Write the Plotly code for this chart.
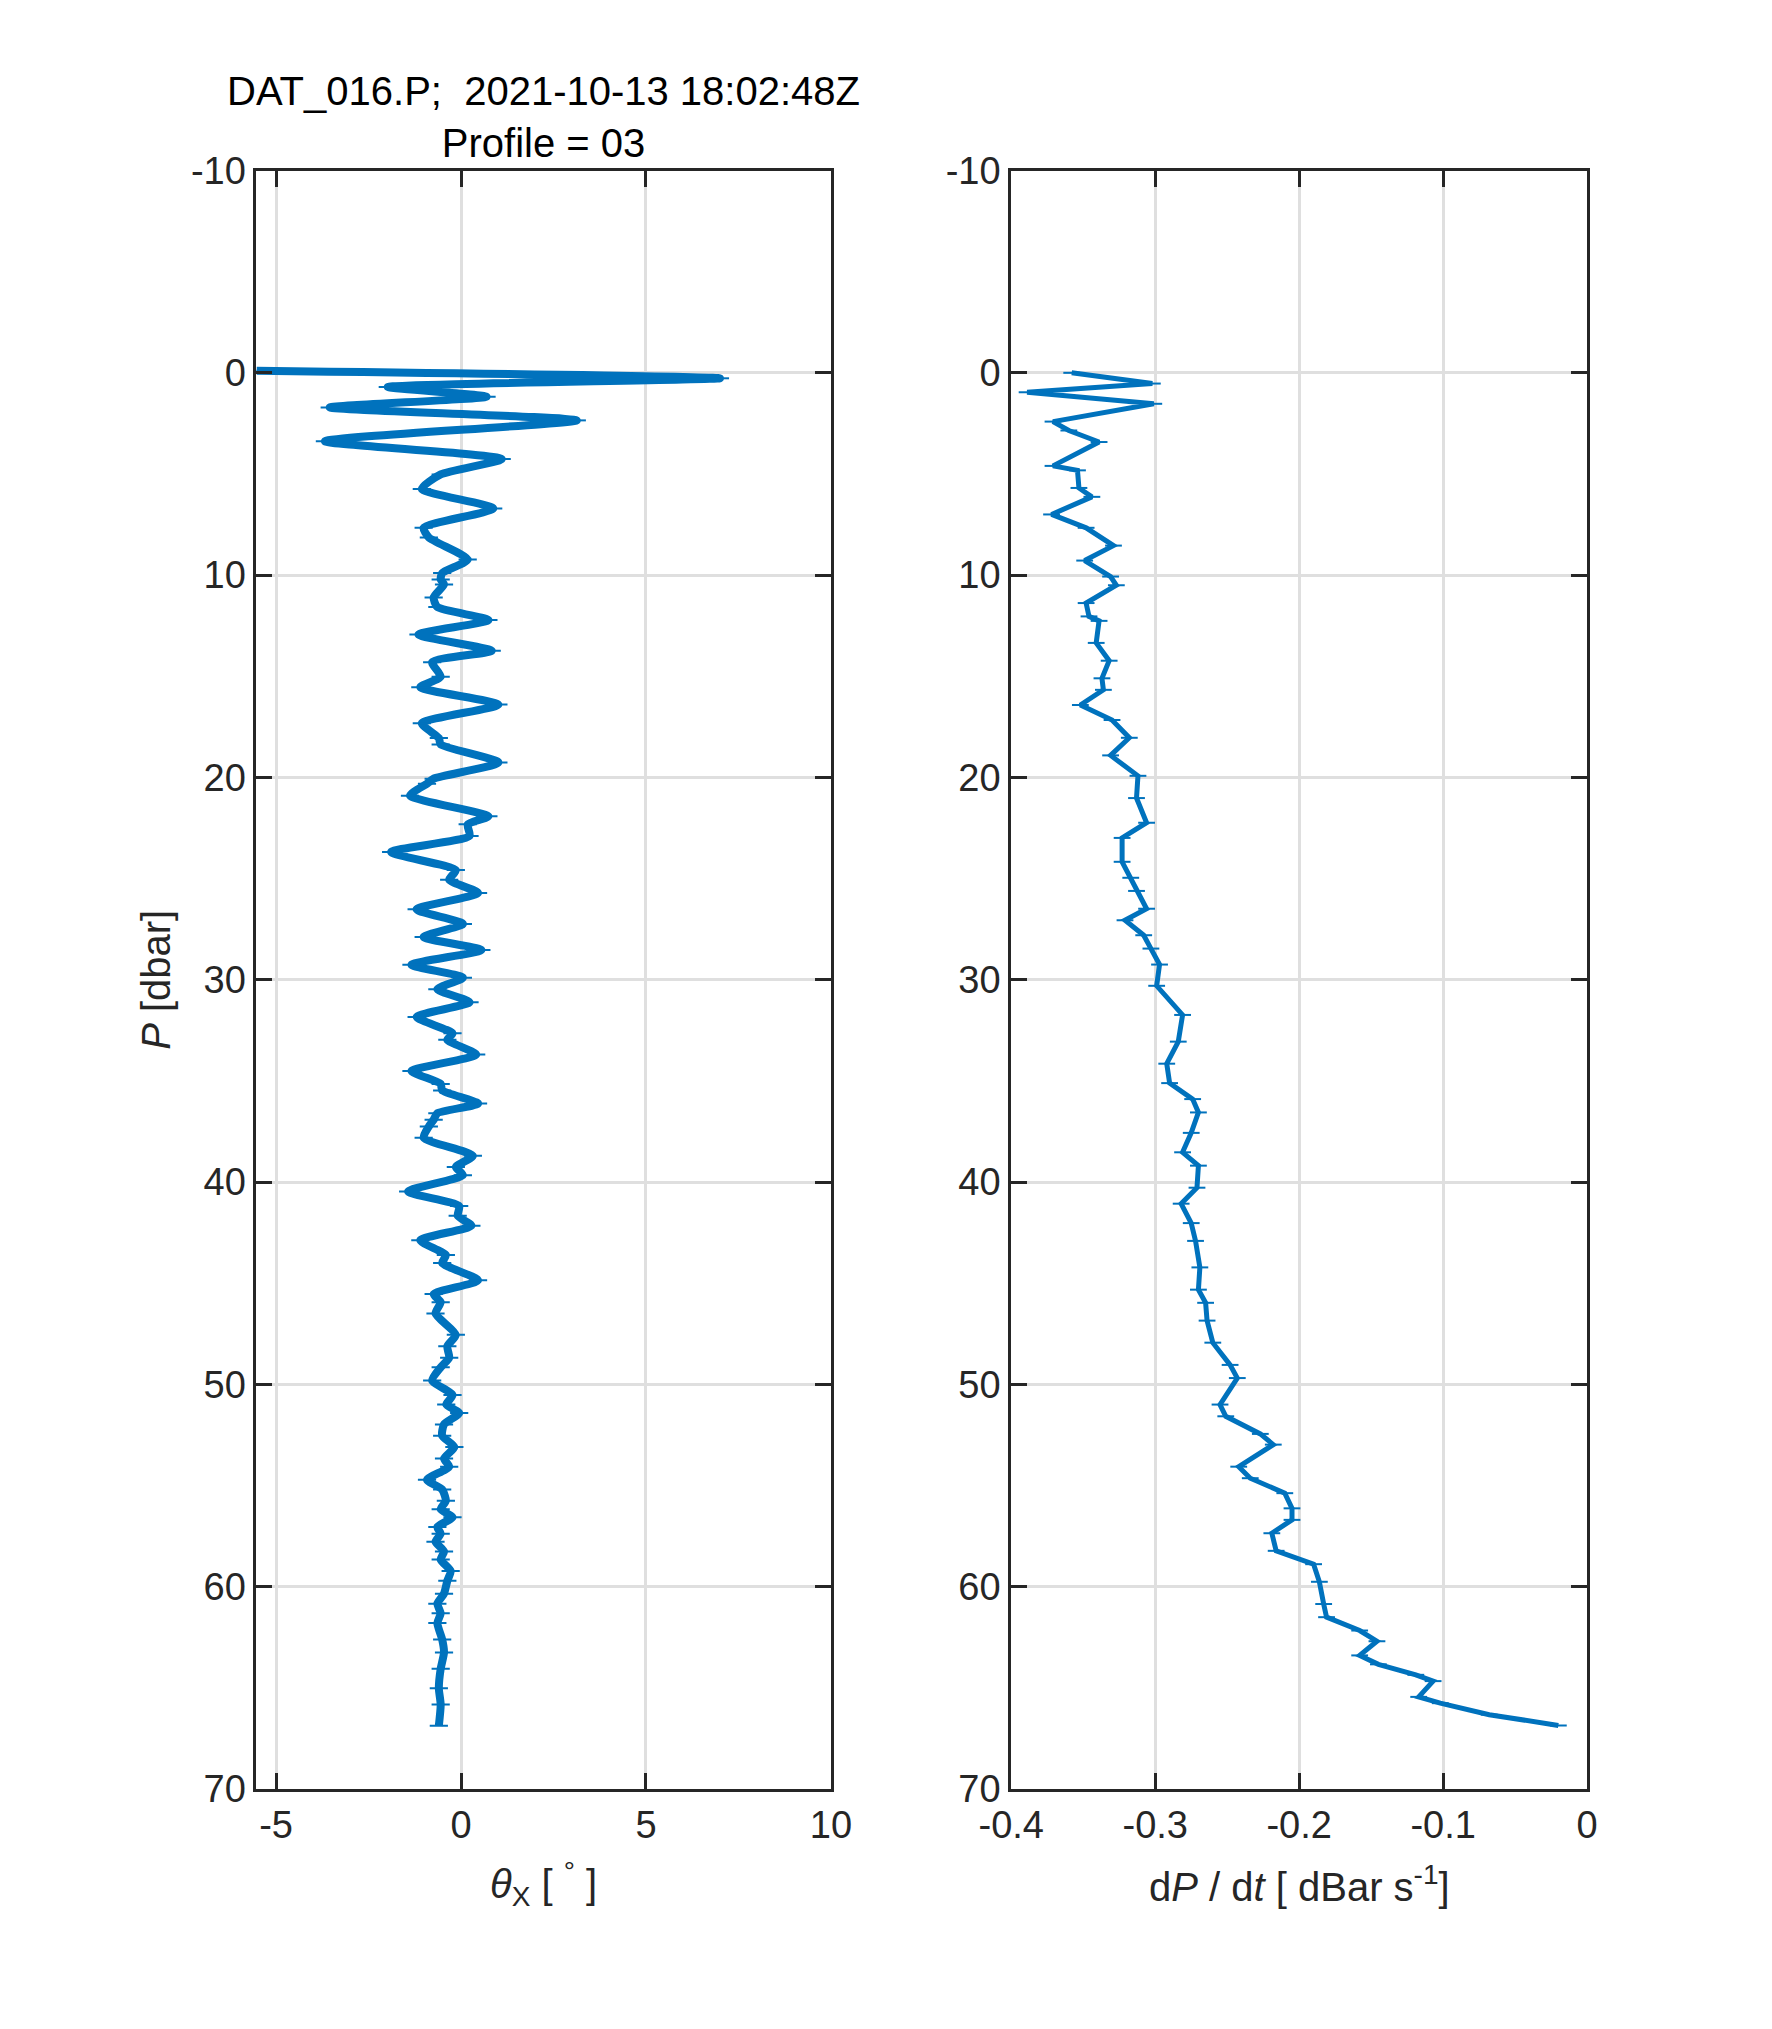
import plotly.graph_objects as go

# ---- data ----
theta_P = [-0.1, 0.27, 0.7, 1.18, 1.71, 2.35, 3.38, 4.26, 5.02, 5.74, 6.7, 7.66, 8.14, 9.23, 9.9,
           10.22, 10.46, 11.1, 11.58, 12.22, 12.94, 13.74, 14.3, 15.02, 15.54, 16.4, 17.32, 18.05,
           18.37, 19.26, 20.06, 20.31, 20.9, 21.92, 22.32, 22.89, 23.69, 24.58, 25.06, 25.71, 26.52,
           27.24, 27.89, 28.53, 29.26, 29.9, 30.47, 31.11, 31.84, 32.65, 32.97, 33.7, 34.51, 35.15,
           35.47, 36.12, 36.6, 36.92, 37.25, 37.81, 38.7, 39.26, 39.66, 40.47, 41.19, 41.67, 42.16,
           42.88, 43.61, 44.0, 44.86, 45.54, 45.94, 46.5, 47.55, 48.12, 48.68, 49.16, 49.81, 50.53,
           51.0, 51.42, 51.98, 52.54, 53.1, 53.67, 54.07, 54.72, 55.2, 55.76, 56.17, 56.57, 57.05,
           57.38, 57.78, 58.26, 58.66, 59.23, 59.71, 60.35, 60.84, 61.32, 61.8, 62.61, 63.25, 64.06,
           65.02, 65.83, 66.88]
theta_X = [-5.53, 7.0, -1.98, 0.69, -3.55, 3.13, -3.68, 1.10, -0.55, -1.06, 0.87, -1.01, -0.87, 0.18,
           -0.51, -0.55, -0.46, -0.74, -0.64, 0.74, -1.15, 0.83, -0.78, -0.55, -1.10, 1.01, -1.06,
           -0.60, -0.55, 1.01, -0.74, -0.92, -1.38, 0.74, 0.18, 0.23, -1.89, -0.14, -0.32, 0.46,
           -1.20, 0.05, -1.01, 0.55, -1.34, 0.05, -0.64, 0.23, -1.20, -0.23, -0.37, 0.41, -1.34,
           -0.55, -0.51, 0.46, -0.64, -0.74, -0.87, -1.01, 0.32, -0.14, 0.05, -1.43, -0.05, -0.09,
           0.28, -1.10, -0.41, -0.51, 0.46, -0.74, -0.55, -0.69, -0.14, -0.37, -0.32, -0.55, -0.78,
           -0.23, -0.40, -0.05, -0.46, -0.51, -0.18, -0.46, -0.32, -0.92, -0.51, -0.41, -0.55, -0.23,
           -0.64, -0.55, -0.69, -0.46, -0.55, -0.28, -0.37, -0.46, -0.64, -0.55, -0.64, -0.51, -0.46,
           -0.55, -0.60, -0.55, -0.60]

dpdt_P = [0.0, 0.53, 0.96, 1.53, 2.41, 2.85, 3.42, 4.6, 4.82, 5.69, 6.13, 7.0, 7.66, 8.54, 9.28,
          10.07, 10.5, 11.38, 12.04, 12.26, 13.35, 14.23, 15.1, 15.67, 16.42, 17.16, 18.04, 18.91,
          19.92, 21.02, 22.24, 22.99, 24.17, 24.96, 25.61, 26.49, 27.06, 27.8, 28.46, 29.25, 30.3,
          31.74, 33.06, 34.15, 35.11, 35.9, 36.56, 37.57, 38.53, 39.19, 40.28, 41.07, 42.03, 42.91,
          44.22, 45.32, 45.97, 46.85, 47.94, 49.04, 49.69, 51.0, 51.58, 52.45, 52.98, 54.07, 54.64,
          55.38, 56.13, 56.7, 57.36, 58.23, 58.89, 59.76, 60.86, 61.51, 62.17, 62.7, 63.4, 63.84,
          64.36, 64.67, 65.45, 65.76, 66.33, 66.86]
dpdt = [-0.358, -0.302, -0.389, -0.301, -0.371, -0.360, -0.339, -0.371, -0.354, -0.353, -0.344,
        -0.372, -0.348, -0.329, -0.349, -0.331, -0.327, -0.348, -0.346, -0.339, -0.341, -0.332,
        -0.337, -0.336, -0.352, -0.330, -0.318, -0.331, -0.312, -0.313, -0.306, -0.323, -0.323,
        -0.317, -0.313, -0.306, -0.321, -0.308, -0.303, -0.297, -0.299, -0.281, -0.284, -0.292,
        -0.290, -0.274, -0.270, -0.275, -0.281, -0.270, -0.271, -0.282, -0.275, -0.272, -0.269,
        -0.270, -0.265, -0.264, -0.260, -0.248, -0.243, -0.255, -0.251, -0.227, -0.218, -0.242,
        -0.234, -0.210, -0.205, -0.205, -0.219, -0.216, -0.190, -0.186, -0.183, -0.181, -0.158,
        -0.146, -0.158, -0.145, -0.119, -0.107, -0.117, -0.102, -0.068, -0.020]

y_ticks = [-10, 0, 10, 20, 30, 40, 50, 60, 70]
y_ticklabels = ["-10", "0", "10", "20", "30", "40", "50", "60", "70"]
x1_ticks = [-5, 0, 5, 10]
x1_ticklabels = ["-5", "0", "5", "10"]
x2_ticks = [-0.4, -0.3, -0.2, -0.1, 0]
x2_ticklabels = ["-0.4", "-0.3", "-0.2", "-0.1", "0"]

title_text = "DAT_016.P;&nbsp;&nbsp;2021-10-13 18:02:48Z<br>Profile = 03"
x1_title = "<i>θ</i><sub>X</sub> [ <sup>°</sup> ]"
x2_title = "d<i>P</i> / d<i>t</i> [ dBar s<sup>-1</sup>]"
y_title = "<i>P</i> [dbar]"

# ---- styling ----
W, H = 1772, 2029
BLUE = "#0072BD"
AX = "#262626"
GRID = "#dfdfdf"
FONT = "Liberation Sans, Arial, sans-serif"
TICKFONT = 38
LABFONT = 40

L1 = (230.5 / W, 823 / W)
L2 = (1009 / W, 1603 / W)
YD = (1 - 1805.3 / H, 1 - 152.7 / H)

fig = go.Figure()
fig.add_trace(go.Scatter(
    x=theta_X, y=theta_P, mode="lines+markers", xaxis="x", yaxis="y",
    line=dict(color=BLUE, width=8, shape="spline", smoothing=0.6),
    marker=dict(symbol="line-ew", size=13, line=dict(color=BLUE, width=2)),
    showlegend=False, hoverinfo="skip"))
fig.add_trace(go.Scatter(
    x=dpdt, y=dpdt_P, mode="lines+markers", xaxis="x2", yaxis="y2",
    line=dict(color=BLUE, width=5),
    marker=dict(symbol="line-ew", size=12, line=dict(color=BLUE, width=2)),
    showlegend=False, hoverinfo="skip"))

common = dict(showline=True, linecolor=AX, linewidth=3, mirror="ticks",
              ticks="inside", ticklen=16, tickwidth=3, tickcolor=AX,
              showgrid=True, gridcolor=GRID, gridwidth=3, zeroline=False,
              tickfont=dict(family=FONT, size=TICKFONT, color=AX))

fig.update_layout(
    width=W, height=H, margin=dict(l=0, r=0, t=0, b=0),
    paper_bgcolor="white", plot_bgcolor="white",
    xaxis=dict(domain=L1, range=[-5.53, 10], tickvals=x1_ticks, ticktext=x1_ticklabels,
               anchor="y", **common),
    yaxis=dict(domain=YD, range=[70, -10], tickvals=y_ticks, ticktext=y_ticklabels,
               anchor="x", **common),
    xaxis2=dict(domain=L2, range=[-0.4, 0], tickvals=x2_ticks, ticktext=x2_ticklabels,
                anchor="y2", **common),
    yaxis2=dict(domain=YD, range=[70, -10], tickvals=y_ticks, ticktext=y_ticklabels,
                anchor="x2", **common),
)

fig.add_annotation(text=title_text, xref="paper", yref="paper", x=527 / W, y=1 - 98 / H,
                   xanchor="center", yanchor="middle", showarrow=False,
                   font=dict(family=FONT, size=LABFONT, color="black"))
fig.add_annotation(text=x1_title, xref="paper", yref="paper", x=527 / W, y=1 - 1902 / H,
                   xanchor="center", yanchor="middle", showarrow=False,
                   font=dict(family=FONT, size=LABFONT, color=AX))
fig.add_annotation(text=x2_title, xref="paper", yref="paper", x=1306 / W, y=1 - 1902 / H,
                   xanchor="center", yanchor="middle", showarrow=False,
                   font=dict(family=FONT, size=LABFONT, color=AX))
fig.add_annotation(text=y_title, xref="paper", yref="paper", x=127 / W, y=1 - 979 / H,
                   xanchor="center", yanchor="middle", showarrow=False, textangle=-90,
                   font=dict(family=FONT, size=LABFONT, color=AX))

fig.write_html("out.html", config={"displayModeBar": False},
               post_script="document.body.style.margin='0';document.body.style.overflow='hidden';")
